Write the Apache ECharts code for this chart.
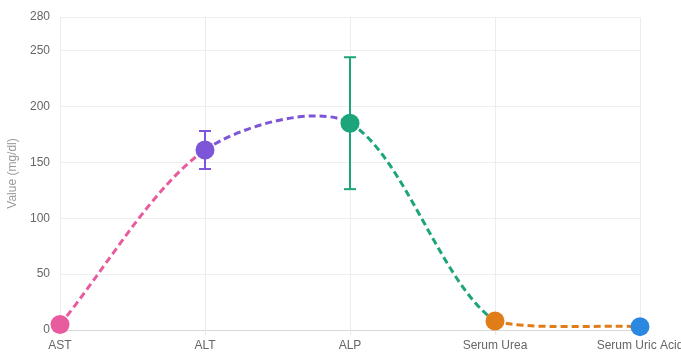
<!DOCTYPE html>
<html>
<head>
<meta charset="utf-8">
<script src="https://cdn.jsdelivr.net/npm/echarts@6/dist/echarts.min.js"></script>
<style>html,body{margin:0;padding:0;background:#fff}#c{width:681px;height:353px}</style>
</head>
<body>
<div id="c"></div>
<script>
const categories = ['AST', 'ALT', 'ALP', 'Serum Urea', 'Serum Uric Acid'];
const values = [5, 161, 185, 8, 3];
const errLow = [null, 144, 126, null, null];
const errHigh = [null, 178, 244, null, null];
const colors = ['#e95b9f', '#7d55d8', '#1ca47a', '#e17d19', '#2a88e0'];

const chart = echarts.init(document.getElementById('c'));
const errData = [];
values.forEach((v, i) => { if (errLow[i] != null) errData.push([i, errLow[i], errHigh[i]]); });
const TENSION = 0.3;

function ctrl(api, i, area) {
  const n = values.length;
  const cur = api.coord([i, values[i]]);
  const prev = i > 0 ? api.coord([i - 1, values[i - 1]]) : cur;
  const next = i < n - 1 ? api.coord([i + 1, values[i + 1]]) : cur;
  const d01 = Math.hypot(cur[0] - prev[0], cur[1] - prev[1]);
  const d12 = Math.hypot(next[0] - cur[0], next[1] - cur[1]);
  let s01 = d01 / (d01 + d12), s12 = d12 / (d01 + d12);
  if (isNaN(s01)) s01 = 0; if (isNaN(s12)) s12 = 0;
  const fa = TENSION * s01, fb = TENSION * s12;
  const cl = (p) => [Math.min(Math.max(p[0], area.x), area.x + area.width), Math.min(Math.max(p[1], area.y), area.y + area.height)];
  return {
    p: cur,
    before: cl([cur[0] - fa * (next[0] - prev[0]), cur[1] - fa * (next[1] - prev[1])]),
    after: cl([cur[0] + fb * (next[0] - prev[0]), cur[1] + fb * (next[1] - prev[1])])
  };
}

chart.setOption({
  animation: false,
  grid: {left: 60, right: 41, top: 17, bottom: 23, outerBoundsMode: 'none', containLabel: false},
  xAxis: {
    type: 'category', data: categories, boundaryGap: false,
    axisLine: {lineStyle: {color: '#d8d8d8'}},
    axisTick: {show: true, length: 5, lineStyle: {color: '#e8e8e8'}},
    splitLine: {show: true, lineStyle: {color: '#ececec'}},
    axisLabel: {color: '#666', fontSize: 12, margin: 10, fontFamily: 'Liberation Sans, Arial, sans-serif'}
  },
  yAxis: {
    type: 'value', min: 0, max: 280, interval: 50,
    name: 'Value (mg/dl)', nameLocation: 'middle', nameGap: 36,
    nameTextStyle: {color: '#999', fontSize: 12, fontFamily: 'Liberation Sans, Arial, sans-serif'},
    axisLine: {show: false}, axisTick: {show: false},
    splitLine: {lineStyle: {color: '#efefef'}},
    axisLabel: {color: '#666', fontSize: 12, margin: 10, fontFamily: 'Liberation Sans, Arial, sans-serif'}
  },
  series: [
    {
      type: 'custom', z: 1,
      data: values.map((v, i) => [i, v]),
      renderItem: function (params, api) {
        const i = api.value(0);
        if (i >= values.length - 1) return null;
        const area = params.coordSys;
        const a = ctrl(api, i, area);
        const b = ctrl(api, i + 1, area);
        return {
          type: 'bezierCurve',
          shape: {x1: a.p[0], y1: a.p[1], cpx1: a.after[0], cpy1: a.after[1], cpx2: b.before[0], cpy2: b.before[1], x2: b.p[0], y2: b.p[1]},
          style: {stroke: colors[i], fill: null, lineWidth: 3, lineDash: [7, 4]}
        };
      }
    },
    {
      type: 'custom', z: 2,
      data: errData,
      renderItem: function (params, api) {
        const i = api.value(0);
        const lo = api.coord([i, api.value(1)]);
        const hi = api.coord([i, api.value(2)]);
        const hw = 6;
        const st = {stroke: colors[i], lineWidth: 2};
        return {type: 'group', children: [
          {type: 'line', shape: {x1: lo[0], y1: lo[1], x2: hi[0], y2: hi[1]}, style: st},
          {type: 'line', shape: {x1: lo[0] - hw, y1: lo[1], x2: lo[0] + hw, y2: lo[1]}, style: st},
          {type: 'line', shape: {x1: hi[0] - hw, y1: hi[1], x2: hi[0] + hw, y2: hi[1]}, style: st}
        ]};
      }
    },
    {
      type: 'scatter', z: 3,
      data: values.map((v, i) => ({value: [i, v], itemStyle: {color: colors[i], opacity: 1}})),
      symbol: 'circle', symbolSize: 19,
      itemStyle: {opacity: 1}
    }
  ]
});
</script>
</body>
</html>
